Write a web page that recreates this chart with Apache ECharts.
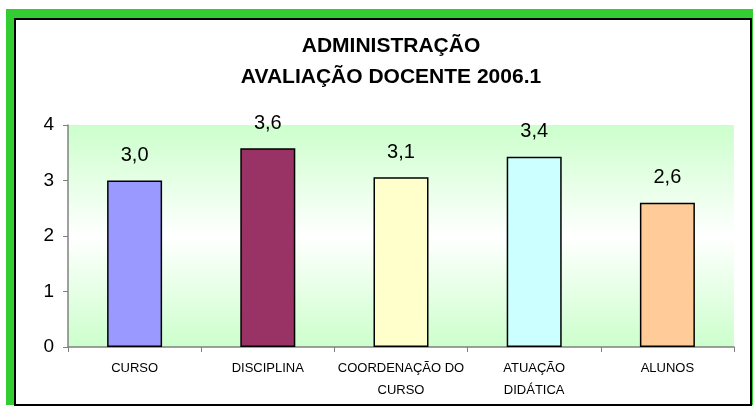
<!DOCTYPE html>
<html>
<head>
<meta charset="utf-8">
<script src="https://cdn.jsdelivr.net/npm/echarts@6/dist/echarts.min.js"></script>
<style>
	html, body { margin: 0; padding: 0; background: #fff; }
	#main { width: 753px; height: 407px; }
</style>
</head>
<body>
<div id="main"></div>
<script>
// dados
var categorias = ['CURSO', 'DISCIPLINA', 'COORDENAÇÃO DO\nCURSO', 'ATUAÇÃO\nDIDÁTICA', 'ALUNOS'];
var notas = [3.0, 3.58, 3.06, 3.43, 2.6];
var cores = ['#9999ff', '#993366', '#ffffcc', '#ccffff', '#ffcc99'];
var yTicks = [0, 1, 2, 3, 4];

function grafico() {
	var chart = echarts.init(document.getElementById('main'));
	var option = {
		animation: false,
		backgroundColor: '#fff',
		// moldura verde + borda preta
		graphic: [{
			type: 'rect',
			z: -10,
			shape: { x: 6, y: 9, width: 747, height: 396 },
			style: { fill: '#33cc33' }
		}, {
			type: 'rect',
			z: -9,
			shape: { x: 15, y: 19, width: 736, height: 386 },
			style: { fill: '#fff', stroke: '#000', lineWidth: 2 }
		}],
		title: {
			text: 'ADMINISTRAÇÃO\nAVALIAÇÃO DOCENTE 2006.1',
			left: 386,
			textAlign: 'center',
			top: 26,
			textStyle: {
				fontFamily: 'Liberation Sans',
				fontWeight: 'bold',
				fontSize: 21,
				lineHeight: 31,
				color: '#000'
			}
		},
		grid: {
			left: 68,
			right: 19,
			top: 125,
			bottom: 60,
			show: true,
			borderWidth: 0,
			backgroundColor: {
				type: 'linear', x: 0, y: 0, x2: 0, y2: 1,
				colorStops: [
					{ offset: 0, color: '#ccffcc' },
					{ offset: 0.5, color: '#ffffff' },
					{ offset: 1, color: '#ccffcc' }
				]
			}
		},
		xAxis: {
			type: 'category',
			data: categorias,
			axisLine: { lineStyle: { color: '#808080', width: 1.5 } },
			axisTick: { show: true, length: 5, lineStyle: { color: '#808080' } },
			axisLabel: {
				color: '#000',
				fontFamily: 'Liberation Sans',
				fontSize: 13,
				lineHeight: 22,
				margin: 10,
				interval: 0
			},
			splitLine: { show: false }
		},
		yAxis: {
			type: 'value',
			min: yTicks[0],
			max: yTicks[yTicks.length - 1],
			interval: 1,
			axisLine: { show: true, lineStyle: { color: '#808080', width: 1.5 } },
			axisTick: { show: true, length: 5, lineStyle: { color: '#808080' } },
			axisLabel: {
				color: '#000',
				fontFamily: 'Liberation Sans',
				fontSize: 19,
				margin: 14
			},
			splitLine: { show: false }
		},
		series: [{
			type: 'bar',
			barWidth: 55,
			data: notas.map(function(v, i) {
				return { value: v, itemStyle: { color: cores[i] } };
			}),
			itemStyle: { borderColor: '#000', borderWidth: 1.5 },
			label: {
				show: true,
				position: 'top',
				distance: 15,
				color: '#000',
				fontFamily: 'Liberation Sans',
				fontSize: 20,
				formatter: function(p) {
					return p.value.toFixed(1).replace('.', ',');
				}
			}
		}]
	};
	chart.setOption(option);
}
grafico();
</script>
</body>
</html>
